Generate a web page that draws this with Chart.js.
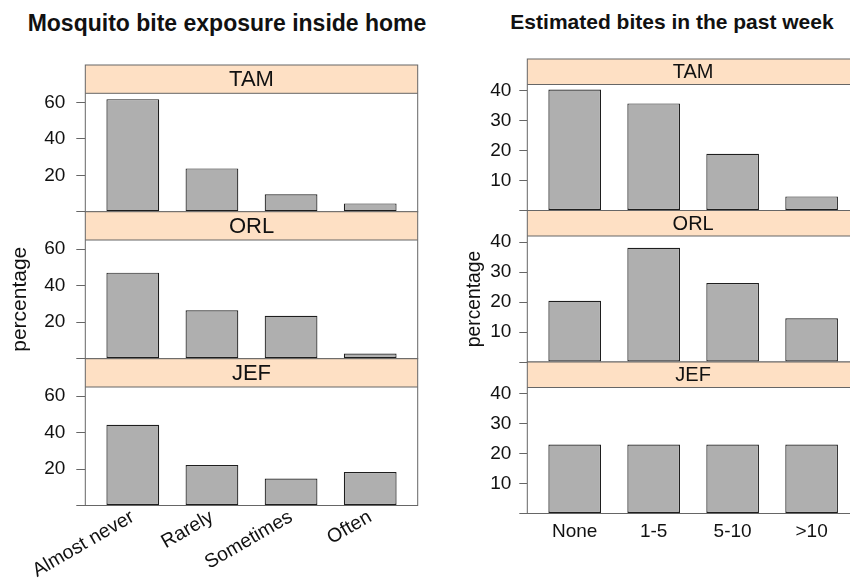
<!DOCTYPE html>
<html>
<head>
<meta charset="utf-8">
<script src="https://cdn.jsdelivr.net/npm/chart.js@4/dist/chart.umd.min.js"></script>
<style>
html,body{margin:0;padding:0;background:#fff;}
body{width:850px;height:586px;overflow:hidden;position:relative;font-family:"Liberation Sans",Arial,Helvetica,sans-serif;}
canvas{position:absolute;}
.title{position:absolute;font-weight:bold;color:#111;white-space:nowrap;line-height:1;transform:translateX(-50%);}
</style>
</head>
<body>
<div class="title" style="left:227px;top:12px;font-size:23px;">Mosquito bite exposure inside home</div>
<div class="title" style="left:672px;top:11px;font-size:21px;">Estimated bites in the past week</div>
<canvas id="L0"></canvas>
<canvas id="L1"></canvas>
<canvas id="L2"></canvas>
<canvas id="R0"></canvas>
<canvas id="R1"></canvas>
<canvas id="R2"></canvas>
<script>
// ---- data ----
const sites = ['TAM', 'ORL', 'JEF'];
const exposureCategories = ['Almost never', 'Rarely', 'Sometimes', 'Often'];
const bitesCategories = ['None', '1-5', '5-10', '>10'];
const exposureTAM = [61.8, 23.8, 9.6, 4.6];
const exposureORL = [47.1, 26.5, 23.4, 2.7];
const exposureJEF = [44.3, 22.2, 14.8, 18.4];
const bitesTAM = [40.3, 35.7, 18.9, 4.7];
const bitesORL = [20.4, 38.1, 26.3, 14.6];
const bitesJEF = [23.0, 23.0, 23.0, 23.0];
const exposureTicks = [0, 20, 40, 60];
const bitesTicks = [0, 10, 20, 30, 40];
const yLabel = 'percentage';

// ---- styles ----
const FONT = '"Liberation Sans", Arial, Helvetica, sans-serif';
const FRAME = '#666666';
const STRIP_FILL = '#fee0c4';
const BAR_FILL = '#afafaf';
const BAR_EDGE = '#1e1e1e';
const BOTTOM_PAD = 30;

const stripPlugin = {
  id: 'strip',
  afterDraw(chart, args, opts) {
    const ctx = chart.ctx, a = chart.chartArea;
    const top = a.top - opts.height;
    ctx.save();
    ctx.fillStyle = STRIP_FILL;
    ctx.fillRect(a.left, top, a.right - a.left, opts.height);
    ctx.strokeStyle = FRAME;
    ctx.lineWidth = 1;
    ctx.strokeRect(a.left, top, a.right - a.left, a.bottom - top);
    ctx.beginPath();
    ctx.moveTo(a.left, a.top);
    ctx.lineTo(a.right, a.top);
    ctx.stroke();
    ctx.fillStyle = '#111';
    ctx.font = opts.fontSize + 'px ' + FONT;
    ctx.textAlign = 'center';
    ctx.textBaseline = 'middle';
    ctx.fillText(opts.label, (a.left + a.right) / 2, top + opts.height / 2 + 1);
    ctx.restore();
  }
};

function makePanel(id, o) {
  const cv = document.getElementById(id);
  const y0 = Math.floor(o.y);
  const h = o.showX ? 586 - y0 : Math.ceil(o.areaBottom - y0 + BOTTOM_PAD);
  cv.width = o.w; cv.height = h;
  cv.style.left = o.x + 'px'; cv.style.top = y0 + 'px';
  new Chart(cv, {
    type: 'bar',
    data: {
      datasets: [{
        data: o.values.map((v, i) => ({ x: i + 1, y: v })),
        backgroundColor: BAR_FILL,
        borderColor: BAR_EDGE,
        borderWidth: 1.2,
        borderSkipped: false,
        barPercentage: 2 / 3,
        categoryPercentage: 1
      }]
    },
    options: {
      responsive: false,
      animation: false,
      devicePixelRatio: 1,
      events: [],
      layout: { padding: { left: 0, right: o.w - (o.areaRight - o.x), top: o.areaTop - y0, bottom: o.showX ? 0 : (y0 + h) - o.areaBottom } },
      plugins: {
        legend: { display: false },
        tooltip: { enabled: false },
        strip: { label: o.label, height: o.stripH, fontSize: o.stripFont }
      },
      scales: {
        x: {
          type: 'linear', min: 0.4, max: 4.6, offset: false,
          display: o.showX,
          afterBuildTicks: s => { s.ticks = o.categories.map((c, i) => ({ value: i + 1 })); },
          afterFit: s => { if (o.showX) s.height = (y0 + h) - o.areaBottom; },
          grid: { display: false, drawTicks: false, offset: false },
          border: { display: false },
          ticks: {
            autoSkip: false, minRotation: o.rot, maxRotation: o.rot, padding: o.xPad,
            color: '#111', font: { family: FONT, size: o.xFont },
            callback: v => o.categories[Math.round(v) - 1] || ''
          }
        },
        y: {
          min: 0, max: o.yMax,
          afterBuildTicks: s => { s.ticks = o.ticks.map(v => ({ value: v })); },
          afterFit: s => { s.width = o.areaLeft - o.x; },
          grid: { display: true, drawOnChartArea: false, drawTicks: true, tickLength: o.tickLen, tickColor: FRAME, color: FRAME },
          border: { display: false },
          ticks: { padding: o.yPad, color: '#111', font: { family: FONT, size: o.yFont }, callback: v => (v === 0 ? '' : String(v)) },
          title: { display: !!o.yTitle, text: yLabel, color: '#111', font: { family: FONT, size: o.titleFont }, padding: { top: o.titlePad, bottom: 0 } }
        }
      }
    },
    plugins: [stripPlugin]
  });
}

// left column
const leftSeries = [exposureTAM, exposureORL, exposureJEF];
const leftTops = [65, 211.7, 358.7];
leftSeries.forEach((vals, i) => {
  const areaTop = leftTops[i] + 28.3;
  const areaBottom = areaTop + 118.5;
  makePanel('L' + i, {
    x: 0, y: leftTops[i] - 3, w: 432,
    areaLeft: 85.3, areaRight: 417.7, areaTop: areaTop, areaBottom: areaBottom,
    stripH: 28.3, stripFont: 22, label: sites[i],
    values: vals, categories: exposureCategories, yMax: 65, ticks: exposureTicks,
    tickLen: 9, yPad: 11, yFont: 19,
    showX: i === 2, rot: 30, xPad: 0, xFont: 19.5,
    yTitle: i === 1, titleFont: 21, titlePad: 8
  });
});

// right column
const rightSeries = [bitesTAM, bitesORL, bitesJEF];
const rightTops = [59, 210.5, 362];
rightSeries.forEach((vals, i) => {
  const areaTop = rightTops[i] + 25.5;
  const areaBottom = areaTop + 126;
  makePanel('R' + i, {
    x: 440, y: rightTops[i] - 3, w: 430,
    areaLeft: 527.3, areaRight: 859, areaTop: areaTop, areaBottom: areaBottom,
    stripH: 25.5, stripFont: 20, label: sites[i],
    values: vals, categories: bitesCategories, yMax: 42, ticks: bitesTicks,
    tickLen: 8, yPad: 8, yFont: 19,
    showX: i === 2, rot: 0, xPad: 7, xFont: 19,
    yTitle: i === 1, titleFont: 19.3, titlePad: 23
  });
});
</script>
</body>
</html>
